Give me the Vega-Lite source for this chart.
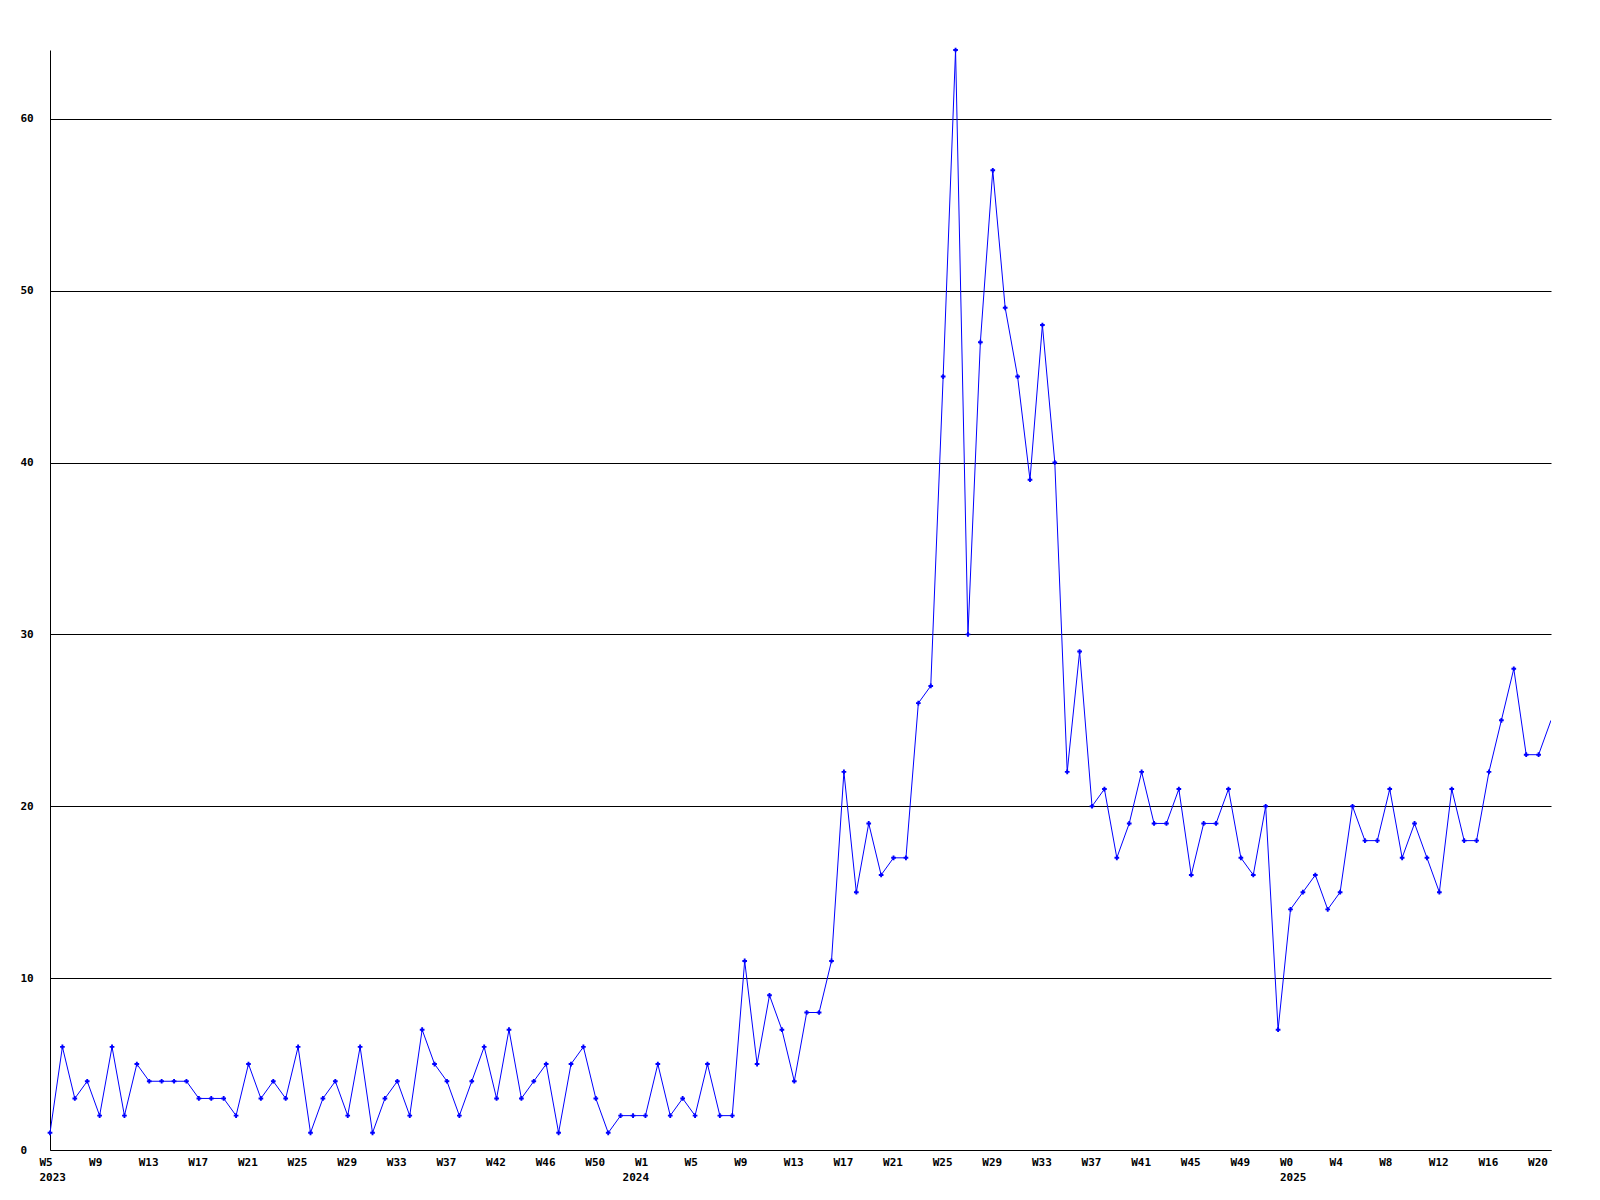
{
  "$schema": "https://vega.github.io/schema/vega-lite/v6.json",
  "width": 1501,
  "height": 1100,
  "autosize": {"type": "none"},
  "padding": {"left": 50, "top": 50, "right": 49, "bottom": 50},
  "background": "white",
  "config": {
    "view": {"stroke": null},
    "axis": {
      "labelFont": "DejaVu Sans Mono",
      "labelFontWeight": "bold",
      "labelFontSize": 11,
      "labelColor": "black",
      "domainColor": "black",
      "domainWidth": 1,
      "ticks": false,
      "title": null
    }
  },
  "data": {
    "values": [
      {"i":0,"v":1},{"i":1,"v":6},{"i":2,"v":3},{"i":3,"v":4},{"i":4,"v":2},{"i":5,"v":6},{"i":6,"v":2},{"i":7,"v":5},
      {"i":8,"v":4},{"i":9,"v":4},{"i":10,"v":4},{"i":11,"v":4},{"i":12,"v":3},{"i":13,"v":3},{"i":14,"v":3},{"i":15,"v":2},
      {"i":16,"v":5},{"i":17,"v":3},{"i":18,"v":4},{"i":19,"v":3},{"i":20,"v":6},{"i":21,"v":1},{"i":22,"v":3},{"i":23,"v":4},
      {"i":24,"v":2},{"i":25,"v":6},{"i":26,"v":1},{"i":27,"v":3},{"i":28,"v":4},{"i":29,"v":2},{"i":30,"v":7},{"i":31,"v":5},
      {"i":32,"v":4},{"i":33,"v":2},{"i":34,"v":4},{"i":35,"v":6},{"i":36,"v":3},{"i":37,"v":7},{"i":38,"v":3},{"i":39,"v":4},
      {"i":40,"v":5},{"i":41,"v":1},{"i":42,"v":5},{"i":43,"v":6},{"i":44,"v":3},{"i":45,"v":1},{"i":46,"v":2},{"i":47,"v":2},
      {"i":48,"v":2},{"i":49,"v":5},{"i":50,"v":2},{"i":51,"v":3},{"i":52,"v":2},{"i":53,"v":5},{"i":54,"v":2},{"i":55,"v":2},
      {"i":56,"v":11},{"i":57,"v":5},{"i":58,"v":9},{"i":59,"v":7},{"i":60,"v":4},{"i":61,"v":8},{"i":62,"v":8},{"i":63,"v":11},
      {"i":64,"v":22},{"i":65,"v":15},{"i":66,"v":19},{"i":67,"v":16},{"i":68,"v":17},{"i":69,"v":17},{"i":70,"v":26},{"i":71,"v":27},
      {"i":72,"v":45},{"i":73,"v":64},{"i":74,"v":30},{"i":75,"v":47},{"i":76,"v":57},{"i":77,"v":49},{"i":78,"v":45},{"i":79,"v":39},
      {"i":80,"v":48},{"i":81,"v":40},{"i":82,"v":22},{"i":83,"v":29},{"i":84,"v":20},{"i":85,"v":21},{"i":86,"v":17},{"i":87,"v":19},
      {"i":88,"v":22},{"i":89,"v":19},{"i":90,"v":19},{"i":91,"v":21},{"i":92,"v":16},{"i":93,"v":19},{"i":94,"v":19},{"i":95,"v":21},
      {"i":96,"v":17},{"i":97,"v":16},{"i":98,"v":20},{"i":99,"v":7},{"i":100,"v":14},{"i":101,"v":15},{"i":102,"v":16},{"i":103,"v":14},
      {"i":104,"v":15},{"i":105,"v":20},{"i":106,"v":18},{"i":107,"v":18},{"i":108,"v":21},{"i":109,"v":17},{"i":110,"v":19},{"i":111,"v":17},
      {"i":112,"v":15},{"i":113,"v":21},{"i":114,"v":18},{"i":115,"v":18},{"i":116,"v":22},{"i":117,"v":25},{"i":118,"v":28},{"i":119,"v":23},
      {"i":120,"v":23},{"i":121,"v":25}
    ]
  },
  "encoding": {
    "x": {
      "field": "i",
      "type": "quantitative",
      "scale": {"domain": [0, 121], "nice": false, "zero": false},
      "axis": {
        "values": [0,4,8,12,16,20,24,28,32,36,40,44,47,48,52,56,60,64,68,72,76,80,84,88,92,96,100,104,108,112,116,120],
        "grid": false,
        "labelAlign": "left",
        "labelOffset": -11,
        "labelPadding": 6,
        "labelLineHeight": 15,
        "labelOverlap": false,
        "labelFlush": false,
        "labelExpr": "datum.value == 0 ? ['W5', '2023'] : datum.value == 47 ? ['', '2024'] : datum.value == 100 ? ['W0', '2025'] : ['W5','W9','W13','W17','W21','W25','W29','W33','W37','W42','W46','W50','W1','W5','W9','W13','W17','W21','W25','W29','W33','W37','W41','W45','W49','W0','W4','W8','W12','W16','W20'][datum.value / 4]"
      }
    },
    "y": {
      "field": "v",
      "type": "quantitative",
      "scale": {"domain": [0, 64], "nice": false},
      "axis": {
        "values": [0,10,20,30,40,50,60],
        "grid": true,
        "gridColor": "black",
        "gridOpacity": 1,
        "gridWidth": 1,
        "labelAlign": "left",
        "labelPadding": 30,
        "labelBaseline": "middle"
      }
    }
  },
  "layer": [
    {"mark": {"type": "line", "color": "#0000FF", "strokeWidth": 1, "clip": true}},
    {
      "transform": [{"filter": "datum.i < 121"}],
      "mark": {"type": "point", "shape": "cross", "filled": true, "color": "#0000FF", "size": 22, "opacity": 1}
    }
  ]
}
